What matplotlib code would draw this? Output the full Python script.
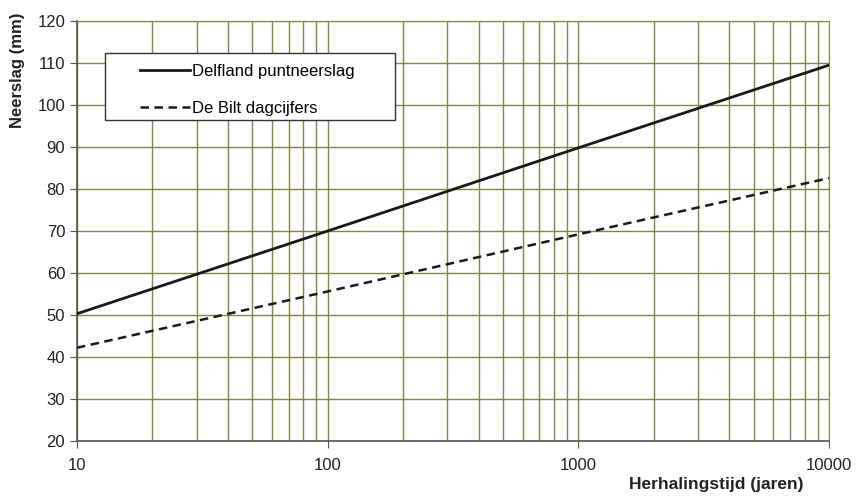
import numpy as np
import matplotlib.pyplot as plt
from matplotlib.patches import Rectangle
from matplotlib.ticker import LogLocator, NullFormatter, FixedLocator

# herhalingstijd (jaren) en neerslag (mm)
herhalingstijd = [10, 100, 1000, 10000]
delfland = [50.3, 70.0, 89.8, 109.5]
de_bilt = [42.2, 55.6, 69.2, 82.6]

plt.rcParams['font.family'] = ['Liberation Sans', 'DejaVu Sans']

fig = plt.figure(figsize=(8.57, 5.01), dpi=100)
ax = fig.add_axes([0.0898, 0.1198, 0.8775, 0.8382])

grid_kleur = '#84844c'

ax.set_xscale('log')
ax.set_xlim(10, 10000)
ax.set_ylim(20, 120)

ax.plot(herhalingstijd, delfland, color='#1a1a1a', lw=2.0, label='Delfland puntneerslag', zorder=3)
ax.plot(herhalingstijd, de_bilt, color='#1a1a1a', lw=1.8, ls=(0, (3.4, 2.2)), label='De Bilt dagcijfers', zorder=3)

ax.xaxis.set_major_locator(FixedLocator(herhalingstijd))
ax.xaxis.set_major_formatter(plt.FuncFormatter(lambda v, p: f"{int(v)}"))
ax.xaxis.set_minor_locator(LogLocator(base=10, subs=np.arange(2, 10)))
ax.xaxis.set_minor_formatter(NullFormatter())
ax.set_yticks(np.arange(20, 121, 10))

ax.grid(True, which='both', axis='x', color=grid_kleur, lw=1.0)
ax.grid(True, which='major', axis='y', color=grid_kleur, lw=1.0)

for s in ['top', 'right']:
    ax.spines[s].set_color(grid_kleur)
for s in ['left', 'bottom']:
    ax.spines[s].set_color('#555555')
    ax.spines[s].set_linewidth(1.2)

ax.tick_params(axis='both', which='major', labelsize=12, length=5, color='#555555', labelcolor='#222222')
ax.tick_params(axis='x', which='minor', length=0)
ax.tick_params(axis='x', which='major', pad=7)

ax.set_ylabel('Neerslag (mm)', fontsize=12, fontweight='bold', color='#222222')
ax.yaxis.set_label_coords(-0.069, 0.883)
fig.text(0.937, 0.032, 'Herhalingstijd (jaren)', fontsize=12.5, fontweight='bold',
         color='#222222', ha='right', va='center')

# legendakader
ax.add_patch(Rectangle((0.0372, 0.7643), 0.3857, 0.1595, transform=ax.transAxes,
                       facecolor='white', edgecolor='#333333', lw=1.0, zorder=4))
leg = ax.legend(loc='upper left', bbox_to_anchor=(0.0838, 0.898), fontsize=12,
                frameon=False, handlelength=3.0, handletextpad=0.12, labelspacing=1.3,
                borderpad=0, borderaxespad=0)
leg.set_zorder(5)

fig.savefig('out.png', dpi=100, facecolor='white')
